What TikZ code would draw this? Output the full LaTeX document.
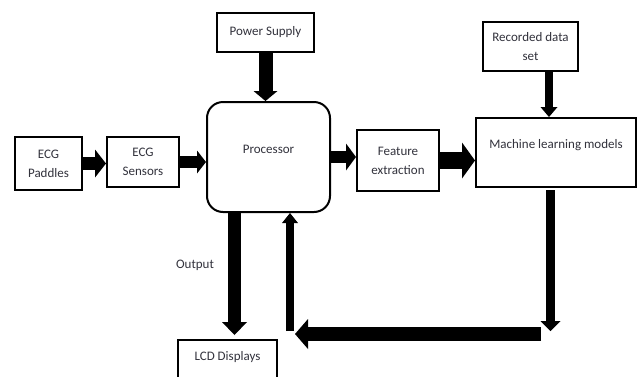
\documentclass[tikz,border=0pt]{standalone}
\usepackage{fontspec}
\setmainfont{Carlito}
\usetikzlibrary{arrows.meta}
\definecolor{txt}{RGB}{50,50,60}
\tikzset{
  box/.style={draw=black, line width=2pt, inner sep=0pt, align=center, text=txt,
    font=\fontsize{13}{19}\selectfont},
  fat/.style n args={3}{draw=black, line width=#1,
    -{Triangle[width=#2,length=#3,line width=0pt]}},
  lbl/.style={text=txt, font=\fontsize{13}{19}\selectfont},
}
\begin{document}
\begin{tikzpicture}[x=1pt,y=-1pt]
\clip (0,0) rectangle (638,376);
\fill[white] (0,0) rectangle (638,376);

% nodes
\node[box, minimum width=97pt, minimum height=39pt] (ps) at (265.5,32.5) {Power Supply};
\node[box, minimum width=95pt, minimum height=49pt] (rec) at (530.5,46.5) {Recorded data\\set};
\node[box, minimum width=67pt, minimum height=53pt] (pad) at (48.5,163.5) {ECG\\Paddles};
\node[box, minimum width=72pt, minimum height=50pt] (sen) at (143,162) {ECG\\Sensors};
\node[box, rounded corners=16pt, minimum width=123pt, minimum height=110pt,
  label={[lbl, yshift=8pt]center:Processor}] (proc) at (268.5,157) {};
\node[box, minimum width=82pt, minimum height=61pt] (feat) at (398,160.5) {Feature\\extraction};
\node[box, minimum width=160pt, minimum height=69pt,
  label={[lbl, yshift=7pt]center:Machine learning models}] (ml) at (556,152.5) {};
\node[box, minimum width=99pt, minimum height=45pt,
  label={[lbl, yshift=5.5pt]center:LCD Displays}] (lcd) at (227.5,362.5) {};
\node[lbl] (out) at (195,265) {Output};

% loop coordinates
\coordinate (c1) at (550.5,331);
\coordinate (c2) at (541,334);
\coordinate (c3) at (295,334);
\coordinate (c4) at (290,331);

% connectors
\draw[fat={14pt}{24pt}{10pt}] (ps.south) -- (ps.south |- proc.north);
\draw[fat={13pt}{28pt}{11pt}] (pad.east) -- (pad.east -| sen.west);
\draw[fat={12pt}{23pt}{9pt}] (sen.east) -- (sen.east -| proc.west);
\draw[fat={12pt}{27pt}{10pt}] (proc.east) -- (proc.east -| feat.west);
\draw[fat={17pt}{36pt}{13pt}] (feat.east) -- (feat.east -| ml.west);
\draw[fat={8pt}{17pt}{10pt}] ([xshift=18.5pt]rec.south) -- ([xshift=18.5pt]rec.south |- ml.north);
\draw[fat={9pt}{20pt}{10pt}] ([xshift=-5.5pt,yshift=-2pt]ml.south) -- (c1);
\draw[fat={14pt}{30pt}{13pt}] (c2) -- (c3);
\draw[fat={8pt}{16pt}{10pt}] (c4) -- (c4 |- proc.south);
\draw[fat={13pt}{25pt}{13pt}] ([xshift=-34pt]proc.south) -- ([xshift=7pt,yshift=4pt]lcd.north);
\end{tikzpicture}
\end{document}
